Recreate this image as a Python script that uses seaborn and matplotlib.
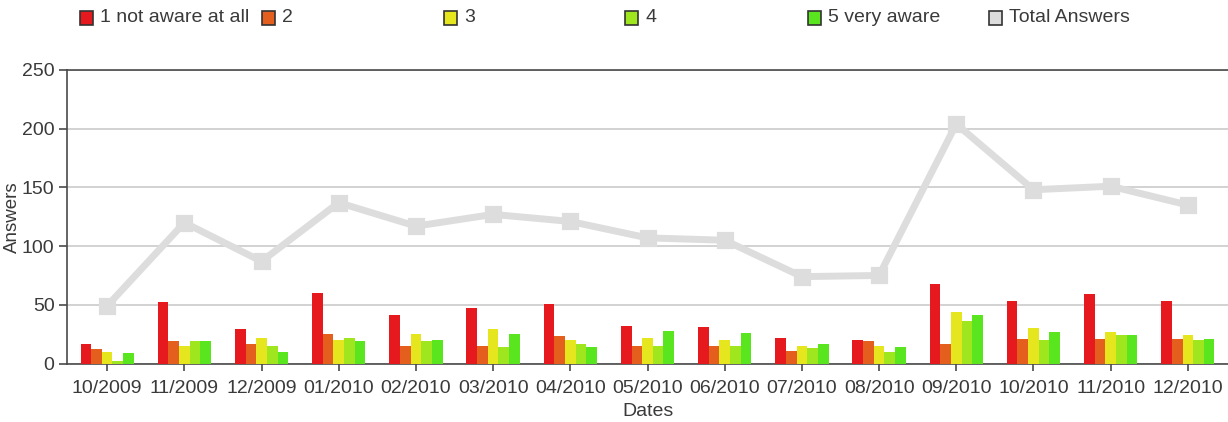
import numpy as np
import pandas as pd
import seaborn as sns
import matplotlib.pyplot as plt
from matplotlib.patches import Rectangle

# Monthly survey answers by awareness level
dates = ["10/2009", "11/2009", "12/2009", "01/2010", "02/2010", "03/2010", "04/2010",
         "05/2010", "06/2010", "07/2010", "08/2010", "09/2010", "10/2010", "11/2010",
         "12/2010"]
levels = ["1 not aware at all", "2", "3", "4", "5 very aware"]

level1 = [17, 52, 29, 60, 41, 47, 51, 32, 31, 22, 20, 68, 53, 59, 53]
level2 = [12, 19, 17, 25, 15, 15, 23, 15, 15, 11, 19, 17, 21, 21, 21]
level3 = [10, 15, 22, 20, 25, 29, 20, 22, 20, 15, 15, 44, 30, 27, 24]
level4 = [2, 19, 15, 22, 19, 14, 17, 15, 15, 13, 10, 36, 20, 24, 20]
level5 = [9, 19, 10, 19, 20, 25, 14, 28, 26, 17, 14, 41, 27, 24, 21]
total_answers = [49, 120, 87, 137, 117, 127, 121, 107, 105, 74, 75, 204, 148, 151, 135]

level_colors = ["#e6191e", "#e45f1e", "#e6e61e", "#a0e61e", "#5ae61e"]
total_color = "#dddddd"
total_label = "Total Answers"

series = [level1, level2, level3, level4, level5]
df = pd.DataFrame({
    "Dates": [d for vals in series for d in dates],
    "Level": [lvl for lvl, vals in zip(levels, series) for _ in vals],
    "Answers": [v for vals in series for v in vals],
})

sns.set_theme(style="white")
plt.rcParams["font.family"] = ["Liberation Sans", "DejaVu Sans"]
plt.rcParams["font.size"] = 14
text_color = "#3a3a3a"

W, H = 1228, 422
fig = plt.figure(figsize=(W / 100, H / 100), dpi=100)
left, right, top, bottom = 67, 1228, 70, 363.5
ax = fig.add_axes([left / W, 1 - bottom / H, (right - left) / W, (bottom - top) / H])

sns.barplot(data=df, x="Dates", y="Answers", hue="Level", hue_order=levels,
            order=dates, palette=level_colors, width=0.69, saturation=1,
            errorbar=None, legend=False, ax=ax, zorder=3, linewidth=0,
            edgecolor="none")

sns.pointplot(x=dates, y=total_answers, order=dates, color=total_color,
              markers="s", errorbar=None, ax=ax,
              linewidth=5, markersize=9, zorder=4)

ax.set_xlim(-0.52, 14.52)
ax.set_ylim(0, 250)
ax.set_yticks(np.arange(0, 251, 50))
ax.yaxis.grid(True, color="#c6c6c6", linewidth=1.1, zorder=0)
ax.xaxis.grid(False)
ax.set_axisbelow(True)

for side in ["left", "bottom", "top"]:
    ax.spines[side].set_visible(True)
    ax.spines[side].set_color("#4a4a4a")
    ax.spines[side].set_linewidth(1.2)
ax.spines["right"].set_visible(False)

ax.tick_params(axis="both", which="both", colors="#4a4a4a", labelcolor=text_color,
               labelsize=14, direction="out")
ax.tick_params(axis="x", length=5, width=1.2, pad=7, bottom=True)
ax.tick_params(axis="y", length=6, width=1.2, pad=3, left=True)

ax.set_xlabel("Dates", fontsize=14, color=text_color)
ax.set_ylabel("Answers", fontsize=13.5, color=text_color)
ax.xaxis.set_label_coords(0.5, -(403 - bottom) / (bottom - top))
ax.yaxis.set_label_coords((21 - left) / (right - left), 0.5)

# Legend row across the top
legend_labels = levels + [total_label]
legend_colors = level_colors + [total_color]
legend_x = [80, 262, 444, 625, 808, 989]
legend_y = 18
box = 13
for x, lab, col in zip(legend_x, legend_labels, legend_colors):
    fig.patches.append(Rectangle((x / W, 1 - (legend_y + box / 2) / H), box / W, box / H,
                                 transform=fig.transFigure, facecolor=col,
                                 edgecolor="#333333", linewidth=1.2))
    fig.text((x + box + 7) / W, 1 - legend_y / H, lab, fontsize=14,
             color=text_color, va="center", ha="left")

fig.savefig("out.png", dpi=100, facecolor="white")
